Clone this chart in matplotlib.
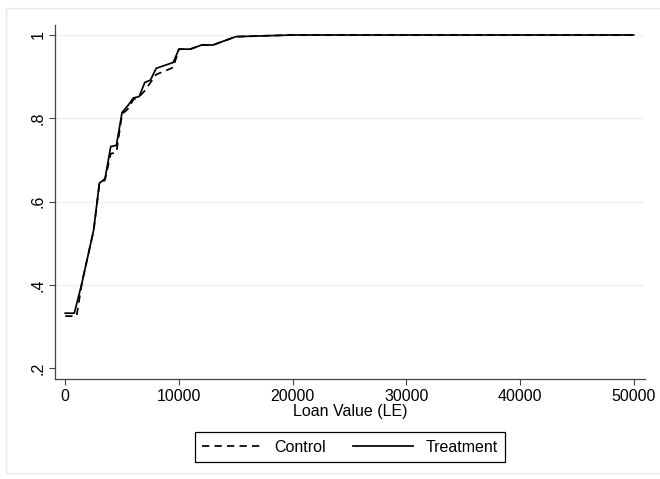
import matplotlib
matplotlib.use("Agg")
import matplotlib.pyplot as plt
from matplotlib.patches import Rectangle

plt.rcParams['font.family'] = ['Liberation Sans', 'DejaVu Sans']
plt.rcParams['font.size'] = 11.5

# cumulative share of loans by loan value (LE)
treat_x = [0, 800, 1500, 2500, 3000, 3500, 4000, 4500, 5000, 5500, 6000, 6500,
           7000, 7500, 8000, 9500, 10000, 11000, 12000, 13000, 15000, 20000, 50000]
treat_y = [.332, .332, .408, .532, .644, .655, .732, .735, .814, .83, .849, .852,
           .886, .892, .920, .934, .966, .966, .976, .976, .996, 1.0, 1.0]

ctrl_x = [0, 1000, 1500, 2500, 3000, 3500, 4000, 4500, 5000, 5500, 6000, 6500,
          7000, 7500, 8000, 9500, 10000, 11000, 12000, 13000, 15000, 20000, 50000]
ctrl_y = [.325, .325, .41, .53, .64, .652, .715, .718, .81, .822, .845, .852,
          .866, .886, .905, .922, .966, .966, .976, .976, .996, 1.0, 1.0]

yticks = [.2, .4, .6, .8, 1]
ylabels = ['.2', '.4', '.6', '.8', '1']
xticks = [0, 10000, 20000, 30000, 40000, 50000]

fig = plt.figure(figsize=(6.6, 4.79), dpi=100)
# light outer frame of the graph region
fig.patches.append(Rectangle((6 / 660, 6 / 479), 660, 465 / 479, transform=fig.transFigure,
                             fill=False, edgecolor='#E3EDEE', lw=1))

ax = fig.add_axes([55 / 660, 100 / 479, 590 / 660, 354 / 479])
for v in yticks[1:]:
    ax.axhline(v, color='#EAF2F3', lw=1, zorder=0)

ax.plot(ctrl_x, ctrl_y, color='black', lw=1.25, linestyle=(0, (4.2, 3.0)), label='Control')
ax.plot(treat_x, treat_y, color='black', lw=1.25, label='Treatment')

ax.set_xlim(-900, 51000)
ax.set_ylim(0.174, 1.024)
ax.set_xticks(xticks)
ax.set_yticks(yticks)
ax.set_yticklabels(ylabels, rotation=90, va='center')
ax.tick_params(direction='out', length=4, width=0.8, color='#444444', pad=3)
for s in ['top', 'right']:
    ax.spines[s].set_visible(False)
for s in ['left', 'bottom']:
    ax.spines[s].set_color('#444444')
    ax.spines[s].set_linewidth(0.9)
ax.set_xlabel('Loan Value (LE)', labelpad=0)

leg = fig.legend(loc='center', bbox_to_anchor=(350 / 660, 1 - 447 / 479), ncol=2,
                 handlelength=3.75, handletextpad=0.8, columnspacing=1.7,
                 borderpad=0.45, fancybox=False, framealpha=1)
leg.get_frame().set_edgecolor('black')
leg.get_frame().set_linewidth(0.9)

fig.savefig('out.png', dpi=100)
